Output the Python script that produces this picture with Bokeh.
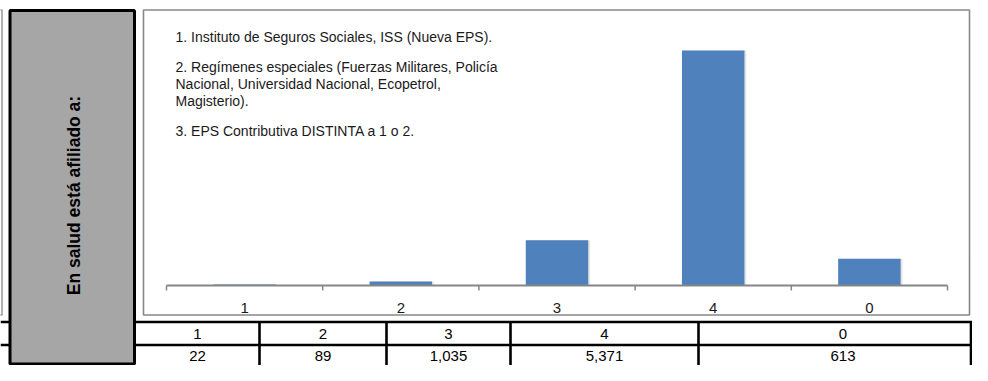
import numpy as np
from bokeh.plotting import figure
from bokeh.models import Range1d
from bokeh.core.properties import value
from bokeh.embed import file_html
from bokeh.resources import INLINE

# ---------------- data ----------------
categories = ["1", "2", "3", "4", "0"]
counts = [22, 89, 1035, 5371, 613]
note_lines = [
    "1. Instituto de Seguros Sociales, ISS (Nueva EPS).",
    "2. Regímenes especiales (Fuerzas Militares, Policía",
    "Nacional, Universidad Nacional, Ecopetrol,",
    "Magisterio).",
    "3. EPS Contributiva DISTINTA a 1 o 2.",
]
row_title = "En salud está afiliado a:"
y_max = 6000

# ---------------- layout (canvas pixels, y downward) ----------------
W, H = 972, 365
FONT = value("Liberation Sans")

p = figure(width=W, height=H,
           x_range=Range1d(0, W), y_range=Range1d(H, 0),
           output_backend="svg", toolbar_location=None, min_border=0,
           x_axis_location=None, y_axis_location=None)
p.grid.visible = False
p.outline_line_color = None
p.background_fill_color = "white"
p.border_fill_color = "white"

AX_X0, AX_X1 = 166, 947
AX_Y0, AX_YTOP = 285, 22.5
n = len(categories)
sx = (AX_X1 - AX_X0) / n
p.extra_x_ranges = {"cat": Range1d((0 - AX_X0) / sx, (W - AX_X0) / sx)}
sy = y_max / (AX_Y0 - AX_YTOP)
p.extra_y_ranges = {"val": Range1d(-(H - AX_Y0) * sy, AX_Y0 * sy)}

# neighbouring box sliver at the far left
p.quad(left=[-20], right=[1.5], top=[9.5], bottom=[314.5], fill_color="white",
       line_color="#999999", line_width=1.5)

# chart box
p.quad(left=[143], right=[969], top=[9.5], bottom=[314.5], fill_color="white",
       line_color="#888888", line_width=1.6)

xs = [i + 0.5 for i in range(n)]
# subtle shadow + bars
p.vbar(x=[x + 0.012 for x in xs], top=counts, bottom=0, width=0.4,
       x_range_name="cat", y_range_name="val",
       fill_color="#000000", fill_alpha=0.10, line_color=None)
p.vbar(x=xs, top=counts, bottom=0, width=0.4, x_range_name="cat", y_range_name="val",
       fill_color="#4F81BD", line_color=None)

# x axis line and ticks
p.segment(x0=[0], x1=[n], y0=[0], y1=[0], x_range_name="cat", y_range_name="val",
          line_color="#868686", line_width=1.8)
p.segment(x0=list(range(n + 1)), x1=list(range(n + 1)),
          y0=[AX_Y0] * (n + 1), y1=[AX_Y0 + 5] * (n + 1), x_range_name="cat",
          line_color="#868686", line_width=1.5)
p.text(x=xs, y=[307] * n, text=categories, x_range_name="cat",
       text_font=FONT, text_font_size="15px", text_align="center",
       text_baseline="middle", text_color="#1a1a1a")

# notes inside chart
note_y = [36, 66, 83, 100, 130]
p.text(x=[175] * len(note_lines), y=note_y, text=note_lines, text_font=FONT,
       text_font_size="14px", text_align="left", text_baseline="middle",
       text_color="#1a1a1a")

# table
col_edges = [135, 259, 386, 510, 698, 987]
centers = [(col_edges[i] + col_edges[i + 1]) / 2 for i in range(n)]
ROW1, ROW2 = 321.5, 344.5
p.segment(x0=[0, 0], x1=[W, W], y0=[ROW1, ROW2], y1=[ROW1, ROW2],
          line_color="black", line_width=2.6)
vx = col_edges[1:-1] + [970.5]
p.segment(x0=vx, x1=vx, y0=[ROW1] * len(vx), y1=[H] * len(vx),
          line_color="black", line_width=2.6)
p.text(x=centers, y=[(ROW1 + ROW2) / 2 + 0.5] * n, text=categories, text_font=FONT,
       text_font_size="15px", text_align="center", text_baseline="middle",
       text_color="black")
p.text(x=centers, y=[(ROW2 + H) / 2 + 0.5] * n, text=[f"{v:,}" for v in counts],
       text_font=FONT, text_font_size="15px", text_align="center",
       text_baseline="middle", text_color="black")

# gray row-title column
p.quad(left=[9.5], right=[134], top=[10], bottom=[H - 1.5], fill_color="#A6A6A6",
       line_color="black", line_width=3)
p.text(x=[73], y=[195], text=[row_title], angle=np.pi / 2, text_font=FONT,
       text_font_size="17.5px", text_font_style="bold", text_align="center",
       text_baseline="middle", text_color="black")

open("out.html", "w").write(file_html(p, INLINE))
